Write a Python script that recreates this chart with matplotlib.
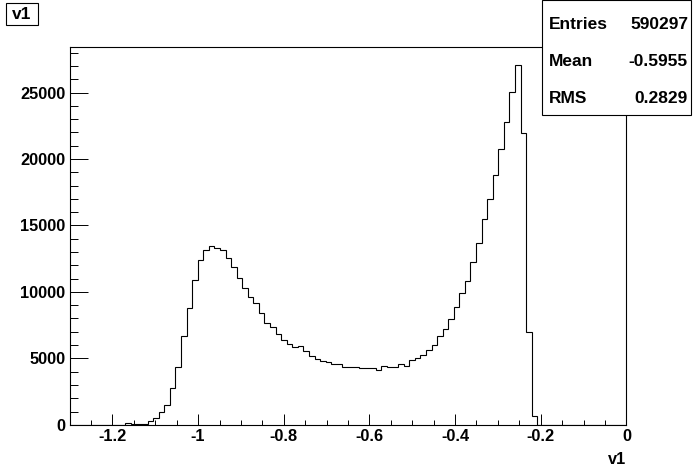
import numpy as np
import matplotlib
matplotlib.use("Agg")
import matplotlib.pyplot as plt
from matplotlib.patches import Rectangle

# ----------------------------
# Histogram data (100 bins, -1.3 .. 0)
# ----------------------------
X_MIN = -1.3
X_MAX = 0.0
N_BINS = 100

counts = [
    0, 0, 0, 0, 0, 0, 0, 0, 0, 0,
    125, 50, 50, 50, 300, 530, 980, 1480, 2790, 4350,
    6710, 8770, 10920, 12410, 13170, 13470, 13340, 13170, 12560, 11860,
    11060, 10300, 9620, 9200, 8420, 7660, 7340, 6830, 6410, 6110,
    5880, 5950, 5550, 5180, 4970, 4800, 4720, 4600, 4600, 4350,
    4350, 4350, 4270, 4270, 4270, 4120, 4420, 4350, 4350, 4570,
    4420, 4870, 5030, 5250, 5630, 6000, 6710, 7210, 7960, 8880,
    9900, 10850, 12240, 13690, 15450, 16980, 18820, 20750, 22810, 25050,
    27060, 21930, 6960, 650, 0, 0, 0, 0, 0, 0,
    0, 0, 0, 0, 0, 0, 0, 0, 0, 0,
]

stat_labels = ["Entries", "Mean", "RMS"]
stat_values = ["590297", "-0.5955", "0.2829"]

hist_name = "v1"

FONT = "Liberation Sans"

# ----------------------------
# Figure
# ----------------------------
fig = plt.figure(figsize=(6.96, 4.72), dpi=100)
fig.patch.set_facecolor("white")
ax = fig.add_axes([0.1, 0.1, 0.8, 0.8])

edges = np.linspace(X_MIN, X_MAX, N_BINS + 1)
ax.stairs(counts, edges, color="black", linewidth=0.8)

ax.set_xlim(X_MIN, X_MAX)
ax.set_ylim(0, 1.05 * max(counts))

# ticks, ROOT style (inward, left/bottom only)
ax.set_xticks(np.arange(-1.2, 0.01, 0.2))
ax.set_xticklabels(["-1.2", "-1", "-0.8", "-0.6", "-0.4", "-0.2", "0"])
ax.set_xticks(np.arange(-1.25, 0.001, 0.05), minor=True)
ax.set_yticks(np.arange(0, 25001, 5000))
ax.set_yticks(np.arange(0, 28001, 1000), minor=True)

ax.tick_params(axis="x", which="major", direction="in", length=7.7, width=0.7, pad=3)
ax.tick_params(axis="x", which="minor", direction="in", length=3.8, width=0.7)
ax.tick_params(axis="y", which="major", direction="in", length=12.7, width=0.7, pad=3)
ax.tick_params(axis="y", which="minor", direction="in", length=6.0, width=0.7)
ax.tick_params(which="both", top=False, right=False)

for lab in ax.get_xticklabels() + ax.get_yticklabels():
    lab.set_fontfamily(FONT)
    lab.set_fontweight("bold")
    lab.set_fontsize(11.8)

for sp in ax.spines.values():
    sp.set_linewidth(0.8)
    sp.set_color("black")

ax.set_xlabel(hist_name, fontfamily=FONT, fontweight="bold", fontsize=11.8, ha="right", va="top")
ax.xaxis.set_label_coords(1.0, -0.072)

# ----------------------------
# Title box (top-left)
# ----------------------------
fig.add_artist(Rectangle((0.0086, 0.947), 0.046, 0.047, transform=fig.transFigure,
                         facecolor="white", edgecolor="black", linewidth=0.8, zorder=5))
fig.text(0.0316, 0.969, hist_name, ha="center", va="center", fontfamily=FONT,
         fontweight="bold", fontsize=12.5, zorder=6)

# ----------------------------
# Stats box (top-right)
# ----------------------------
fig.add_artist(Rectangle((0.7787, 0.7564), 0.2141, 0.2426, transform=fig.transFigure,
                         facecolor="white", edgecolor="black", linewidth=0.8, zorder=5))
row_y = [0.9477, 0.8693, 0.7917]
for y, lab, val in zip(row_y, stat_labels, stat_values):
    fig.text(0.789, y, lab, ha="left", va="center", fontfamily=FONT,
             fontweight="bold", fontsize=12.5, zorder=6)
    fig.text(0.9885, y, val, ha="right", va="center", fontfamily=FONT,
             fontweight="bold", fontsize=12.5, zorder=6)

plt.savefig("out.png", dpi=100)
plt.close()
